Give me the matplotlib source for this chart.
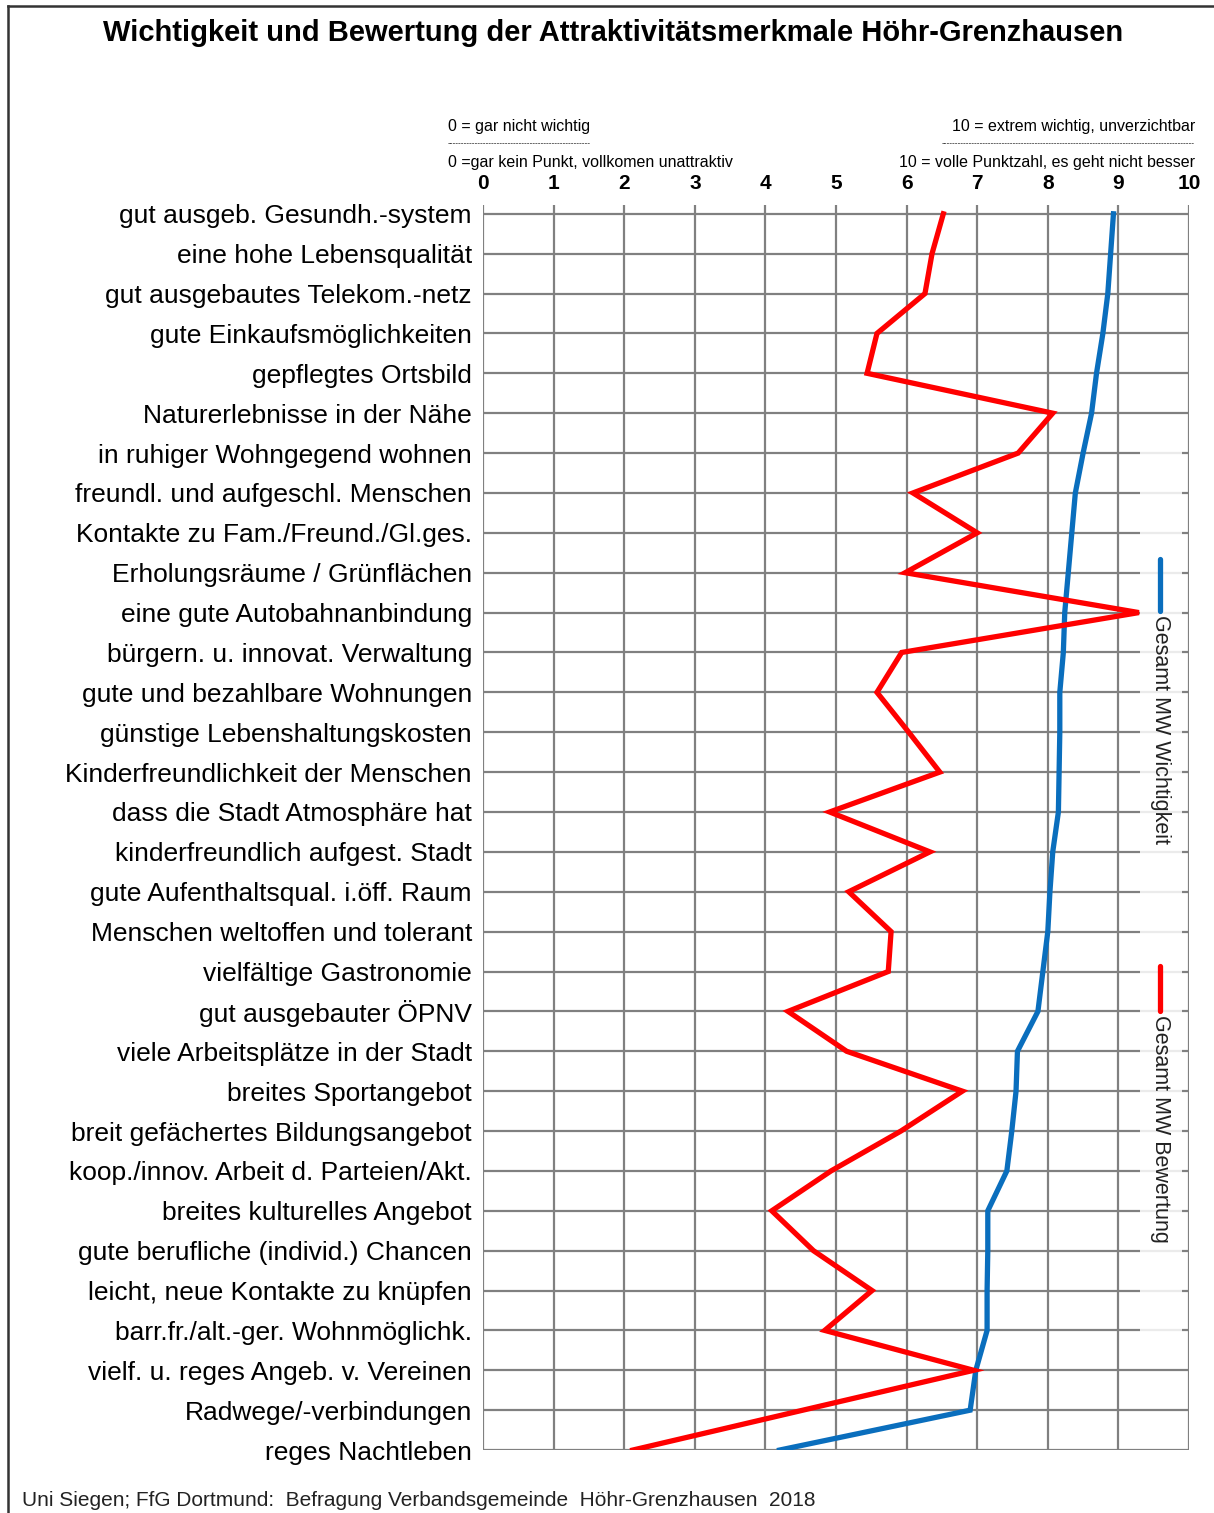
import matplotlib
matplotlib.use("Agg")
import matplotlib.pyplot as plt
from matplotlib.patches import Rectangle
from matplotlib.lines import Line2D

plt.rcParams["font.family"] = ["Liberation Sans", "DejaVu Sans"]

categories = [
    "gut ausgeb. Gesundh.-system",
    "eine hohe Lebensqualität",
    "gut ausgebautes Telekom.-netz",
    "gute Einkaufsmöglichkeiten",
    "gepflegtes Ortsbild",
    "Naturerlebnisse in der Nähe",
    "in ruhiger Wohngegend wohnen",
    "freundl. und aufgeschl. Menschen",
    "Kontakte zu Fam./Freund./Gl.ges.",
    "Erholungsräume / Grünflächen",
    "eine gute Autobahnanbindung",
    "bürgern. u. innovat. Verwaltung",
    "gute und bezahlbare Wohnungen",
    "günstige Lebenshaltungskosten",
    "Kinderfreundlichkeit der Menschen",
    "dass die Stadt Atmosphäre hat",
    "kinderfreundlich aufgest. Stadt",
    "gute Aufenthaltsqual. i.öff. Raum",
    "Menschen weltoffen und tolerant",
    "vielfältige Gastronomie",
    "gut ausgebauter ÖPNV",
    "viele Arbeitsplätze in der Stadt",
    "breites Sportangebot",
    "breit gefächertes Bildungsangebot",
    "koop./innov. Arbeit d. Parteien/Akt.",
    "breites kulturelles Angebot",
    "gute berufliche (individ.) Chancen",
    "leicht, neue Kontakte zu knüpfen",
    "barr.fr./alt.-ger. Wohnmöglichk.",
    "vielf. u. reges Angeb. v. Vereinen",
    "Radwege/-verbindungen",
    "reges Nachtleben",
]

wichtigkeit = [8.93, 8.89, 8.85, 8.78, 8.69, 8.62, 8.50, 8.39, 8.34, 8.29,
               8.24, 8.22, 8.17, 8.17, 8.16, 8.15, 8.07, 8.03, 8.00, 7.93,
               7.86, 7.57, 7.55, 7.49, 7.42, 7.15, 7.15, 7.14, 7.14, 6.98,
               6.90, 4.20]

bewertung = [6.52, 6.36, 6.26, 5.58, 5.44, 8.07, 7.58, 6.09, 7.00, 5.98,
             9.29, 5.93, 5.58, 6.03, 6.47, 4.91, 6.33, 5.18, 5.78, 5.74,
             4.32, 5.15, 6.79, 5.92, 4.93, 4.09, 4.68, 5.51, 4.84, 6.95,
             4.53, 2.12]

x_ticks = list(range(0, 11))

blue = "#0a6ebd"
red = "#ff0000"
grid_gray = "#808080"

fig = plt.figure(figsize=(12.14, 15.13), dpi=100, facecolor="white")
ax = fig.add_axes([0.3979, 0.0416, 0.5815, 0.8229])

rows = list(range(len(categories)))
ax.set_xlim(0, 10)
ax.set_ylim(len(categories) - 1, -0.22)

for x in x_ticks:
    ax.axvline(x, color=grid_gray, lw=1.6, zorder=1)
for r in rows:
    ax.axhline(r, color=grid_gray, lw=1.6, zorder=1)

# white-ish backdrop behind the legend column
ax.add_patch(Rectangle((9.3, 5.5), 0.6, 23.0, facecolor="white", edgecolor="none",
                       alpha=0.85, zorder=2))

ax.plot(wichtigkeit, rows, color=blue, lw=3.8, zorder=4, solid_joinstyle="miter")
ax.plot(bewertung, rows, color=red, lw=3.8, zorder=5, solid_joinstyle="miter")

# legend entries, drawn vertically
ax.add_line(Line2D([9.59, 9.59], [8.65, 9.95], color=blue, lw=3.8,
                   solid_capstyle="round", zorder=6))
ax.text(9.59, 10.05, "Gesamt MW Wichtigkeit", rotation=270, ha="center", va="top",
        fontsize=15.5, color="#222222", zorder=6)
ax.add_line(Line2D([9.59, 9.59], [18.85, 20.0], color=red, lw=3.8,
                   solid_capstyle="round", zorder=6))
ax.text(9.59, 20.1, "Gesamt MW Bewertung", rotation=270, ha="center", va="top",
        fontsize=15.5, color="#222222", zorder=6)

for s in ax.spines.values():
    s.set_visible(False)

ax.set_xticks(x_ticks)
ax.set_xticklabels([str(t) for t in x_ticks], fontsize=15, fontweight="bold")
ax.xaxis.tick_top()
ax.tick_params(axis="x", length=0, pad=9)
ax.set_yticks(rows)
ax.set_yticklabels(categories, fontsize=19)
ax.tick_params(axis="y", length=0, pad=8)

# scale notes above the axis
narrow = ["Liberation Sans Narrow", "Liberation Sans", "DejaVu Sans"]
fig.text(448 / 1214, 1 - 126 / 1513, "0 = gar nicht wichtig", fontsize=11.5,
         family=narrow, ha="left", va="center")
fig.text(1195 / 1214, 1 - 126 / 1513, "10 = extrem wichtig, unverzichtbar", fontsize=11.5,
         family=narrow, ha="right", va="center")
fig.text(448 / 1214, 1 - 144 / 1513, "-" * 52, fontsize=6, family=narrow,
         ha="left", va="center")
fig.text(1195 / 1214, 1 - 144 / 1513, "-" * 92, fontsize=6, family=narrow,
         ha="right", va="center")
fig.text(448 / 1214, 1 - 162 / 1513, "0 =gar kein Punkt, vollkomen unattraktiv",
         fontsize=11.5, family=narrow, ha="left", va="center")
fig.text(1195 / 1214, 1 - 162 / 1513, "10 = volle Punktzahl, es geht nicht besser",
         fontsize=11.5, family=narrow, ha="right", va="center")

fig.text(613 / 1214, 1 - 33 / 1513,
         "Wichtigkeit und Bewertung der Attraktivitätsmerkmale Höhr-Grenzhausen",
         fontsize=21, fontweight="bold", ha="center", va="center")
fig.text(22 / 1214, 1 - 1500 / 1513,
         "Uni Siegen; FfG Dortmund:  Befragung Verbandsgemeinde  Höhr-Grenzhausen  2018",
         fontsize=15, ha="left", va="center", color="#222222")

# frame lines (left and top)
fig.add_artist(Line2D([8 / 1214, 8 / 1214], [0, 1 - 6 / 1513], color="#333333", lw=1.8))
fig.add_artist(Line2D([8 / 1214, 1], [1 - 6 / 1513, 1 - 6 / 1513], color="#333333", lw=1.8))

fig.savefig("out.png", dpi=100, facecolor="white")
